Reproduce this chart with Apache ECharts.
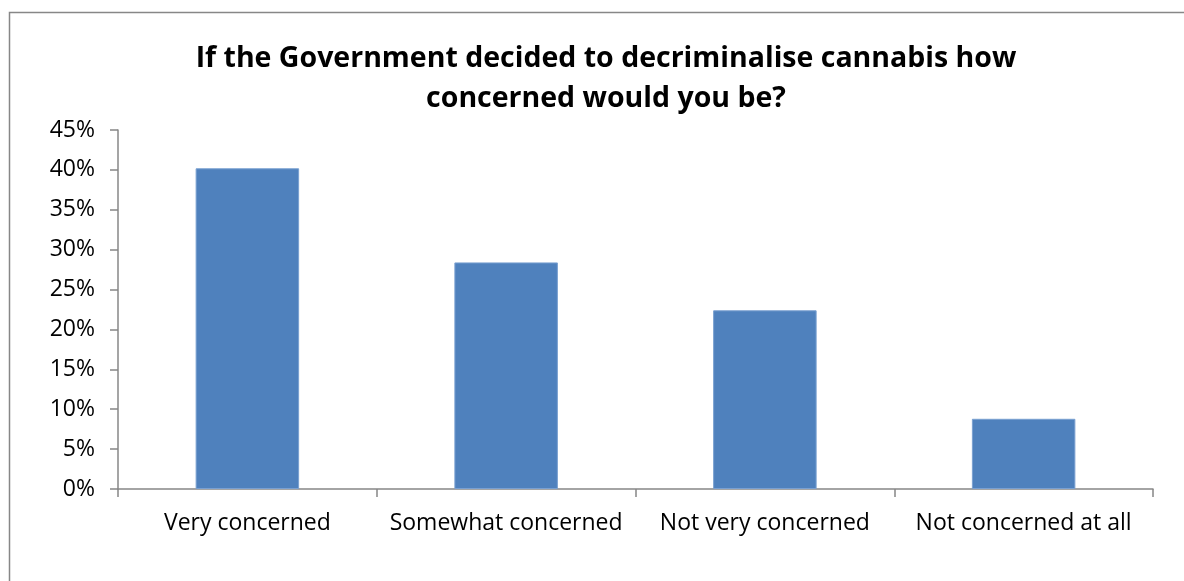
<!DOCTYPE html>
<html><head><meta charset="utf-8">
<script src="https://cdn.jsdelivr.net/npm/echarts@6/dist/echarts.min.js"></script>
<style>html,body{margin:0;padding:0;background:#fff}#c{width:1184px;height:581px}</style>
</head><body><div id="c"></div>
<script>
const titleLines = ['If the Government decided to decriminalise cannabis how', 'concerned would you be?'];
const categories = ['Very concerned', 'Somewhat concerned', 'Not very concerned', 'Not concerned at all'];
const values = [40.2, 28.4, 22.4, 8.8];
const yTicks = { min: 0, max: 45, interval: 5 };

const chart = echarts.init(document.getElementById('c'));
const font = '"Open Sans", "Liberation Sans", sans-serif';
chart.setOption({
  animation: false,
  graphic: [{
    type: 'rect', shape: { x: 9.5, y: 12.5, width: 1300, height: 700 },
    style: { fill: 'none', stroke: '#878787', lineWidth: 1.5 }, silent: true
  }],
  title: {
    text: titleLines.join('\n'),
    left: 601, top: 34, textAlign: 'center',
    textStyle: { fontFamily: font, fontWeight: 'bold', fontSize: 28.5, lineHeight: 40, color: '#000' }
  },
  grid: { left: 118, right: 31, top: 130, bottom: 92 },
  xAxis: {
    type: 'category', data: categories,
    axisLine: { lineStyle: { color: '#878787', width: 1.5 } },
    axisTick: { show: true, interval: 0, length: 8, alignWithLabel: false, lineStyle: { color: '#878787', width: 1.5 } },
    axisLabel: { interval: 0, hideOverlap: false, fontFamily: font, fontSize: 23, color: '#000', margin: 23 }
  },
  yAxis: {
    type: 'value', min: yTicks.min, max: yTicks.max, interval: yTicks.interval,
    axisLine: { show: true, lineStyle: { color: '#878787', width: 1.5 } },
    axisTick: { show: true, length: 8, lineStyle: { color: '#878787', width: 1.5 } },
    splitLine: { show: false },
    axisLabel: { fontFamily: font, fontSize: 23, color: '#000', margin: 23, formatter: v => v + '%' }
  },
  series: [{
    type: 'bar', data: values, barWidth: '40%',
    itemStyle: { color: '#4f81bd', borderColor: '#7aa0d1', borderWidth: 1 }
  }]
});
</script></body></html>
